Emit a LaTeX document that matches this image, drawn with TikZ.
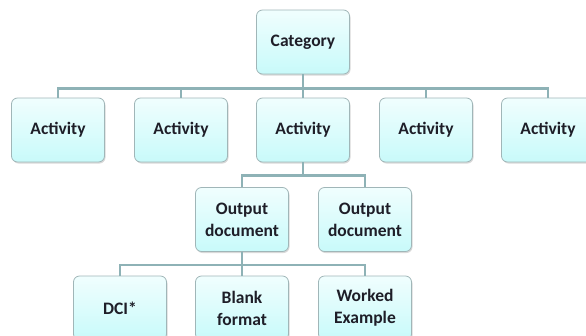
\documentclass[tikz,border=0pt]{standalone}
\usepackage{fontspec}
\setmainfont{Carlito}
\usetikzlibrary{shadows}
\definecolor{boxtop}{RGB}{240,254,254}
\definecolor{boxbot}{RGB}{200,250,250}
\definecolor{boxline}{RGB}{160,182,184}
\definecolor{linkline}{RGB}{142,178,182}
\definecolor{boxtext}{RGB}{30,30,40}
\tikzset{box/.style = {draw=boxline, line width=0.8pt, rounded corners=6pt,
                       top color=boxtop, bottom color=boxbot,
                       minimum width=93pt, minimum height=64pt,
                       align=center, text=boxtext,
                       font=\fontsize{17.5}{22}\selectfont\bfseries,
                       drop shadow={shadow xshift=1pt, shadow yshift=-1.5pt, opacity=0.3}},
         link/.style = {draw=linkline, line width=2.4pt}}

\begin{document}
\begin{tikzpicture}[x=1pt, y=-1pt]
  \useasboundingbox (0,0) rectangle (586,335);
  \clip (0,0) rectangle (586,335);
  % top
  \node[box] (cat) at (303,42) {Category};
  % activities
  \foreach \i/\x in {1/58, 2/181, 3/303, 4/426, 5/548}
    \node[box] (act\i) at (\x,130) {Activity};
  % outputs
  \node[box] (out1) at (242,219.5) {Output\\document};
  \node[box] (out2) at (365,219.5) {Output\\document};
  % bottom row
  \node[box] (dci) at (120,308) {DCI*};
  \node[box] (blank) at (242,308) {Blank\\format};
  \node[box] (worked) at (365,308) {Worked\\Example};
  % links
  \foreach \i in {1,...,5}
    \draw[link] (cat.south) -- ++(0,14) -| (act\i.north);
  \foreach \n in {out1, out2}
    \draw[link] (act3.south) -- ++(0,13) -| (\n.north);
  \foreach \n in {dci, blank, worked}
    \draw[link] (out1.south) -- ++(0,13) -| (\n.north);
\end{tikzpicture}
\end{document}
